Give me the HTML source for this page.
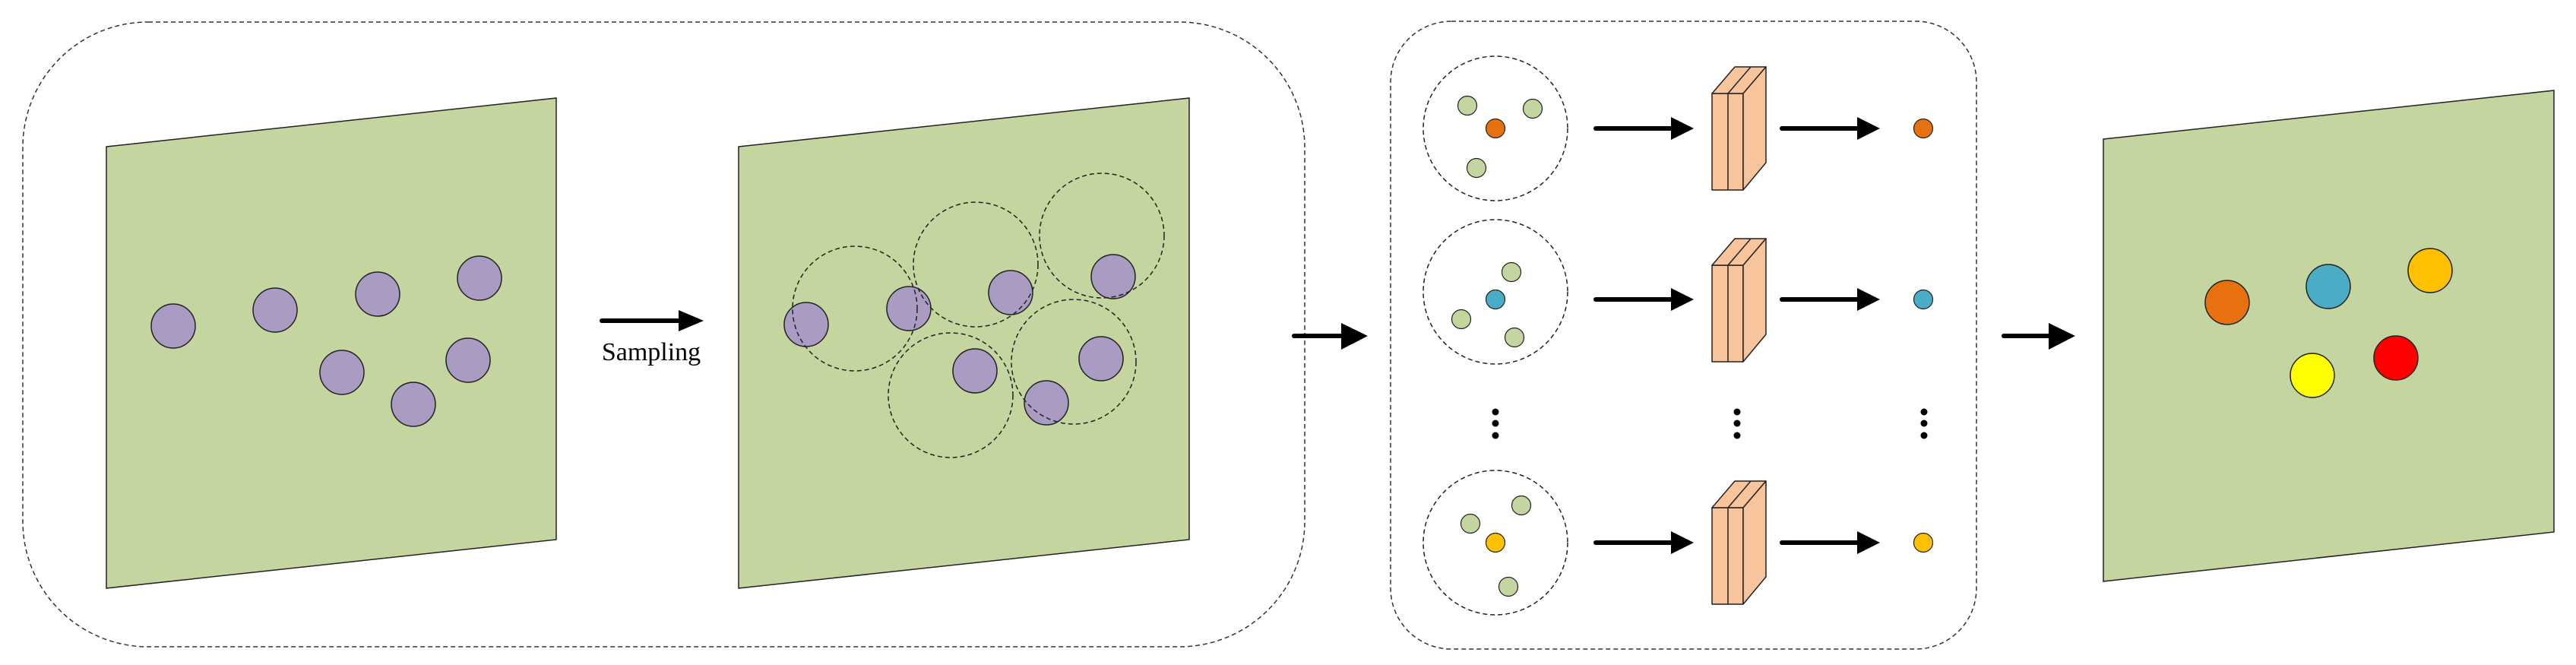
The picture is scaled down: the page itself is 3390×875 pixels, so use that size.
<!DOCTYPE html>
<html><head><style>html,body{margin:0;padding:0;background:#fff}svg{display:block}</style></head>
<body>
<svg width="3390" height="875" viewBox="0 0 3390 875" xmlns="http://www.w3.org/2000/svg">
<g fill="none" stroke="#333" stroke-width="1.5" stroke-dasharray="6,4">
<rect x="30" y="29" width="1687" height="822" rx="165" ry="165"/>
<rect x="1830" y="28" width="771" height="826" rx="80" ry="80"/>
</g>
<g fill="#c4d59f" stroke="#222" stroke-width="1.5">
<polygon points="140,193 732,129 732,710 140,774"/>
<polygon points="972,193 1565,129 1565,710 972,774"/>
<polygon points="2768,183 3361,119 3361,700 2768,765"/>
</g>
<g fill="#a99bc1" stroke="#222" stroke-width="1.5">
<circle cx="228" cy="429" r="29"/><circle cx="362" cy="408" r="29"/><circle cx="497" cy="387" r="29"/><circle cx="631" cy="366" r="29"/><circle cx="450" cy="490" r="29"/><circle cx="544" cy="532" r="29"/><circle cx="616" cy="474" r="29"/>
<circle cx="1061" cy="427" r="29"/><circle cx="1196" cy="406" r="29"/><circle cx="1330" cy="385" r="29"/><circle cx="1465" cy="364" r="29"/><circle cx="1283" cy="488" r="29"/><circle cx="1377" cy="530" r="29"/><circle cx="1449" cy="472" r="29"/>
</g>
<g fill="none" stroke="#222" stroke-width="1.5" stroke-dasharray="6,4">
<circle cx="1125" cy="406" r="82"/><circle cx="1284" cy="348" r="82"/><circle cx="1450" cy="310" r="82"/><circle cx="1251" cy="520" r="82"/><circle cx="1413" cy="476" r="82"/>
<circle cx="1968" cy="169" r="95"/><circle cx="1968" cy="384" r="95"/><circle cx="1968" cy="714" r="95"/>
</g>
<g stroke="#222" stroke-width="1.2">
<g fill="#c4d59f">
<circle cx="1931" cy="139" r="12.5"/><circle cx="2017" cy="143" r="12.5"/><circle cx="1943" cy="221" r="12.5"/>
<circle cx="1989" cy="358" r="12.5"/><circle cx="1923" cy="420" r="12.5"/><circle cx="1993" cy="444" r="12.5"/>
<circle cx="2002" cy="665" r="12.5"/><circle cx="1935" cy="689" r="12.5"/><circle cx="1985" cy="772" r="12.5"/>
</g>
<circle cx="1968" cy="169" r="12.5" fill="#e8710f"/>
<circle cx="1968" cy="394" r="12.5" fill="#4bacc6"/>
<circle cx="1968" cy="714" r="12.5" fill="#ffc000"/>
<circle cx="2531" cy="169" r="12.5" fill="#e8710f"/>
<circle cx="2531" cy="394" r="12.5" fill="#4bacc6"/>
<circle cx="2531" cy="714" r="12.5" fill="#ffc000"/>
<g stroke-width="1.5">
<circle cx="2931" cy="398" r="29" fill="#e8710f"/><circle cx="3064" cy="377" r="29" fill="#4bacc6"/><circle cx="3198" cy="356" r="29" fill="#ffc000"/><circle cx="3043" cy="494" r="29" fill="#ffff00"/><circle cx="3153" cy="471" r="29" fill="#ff0000"/>
</g>
</g>
<g fill="#f8c49c" stroke="#222" stroke-width="1.5" stroke-linejoin="round">
<g id="blk">
<rect x="2253" y="123" width="41" height="127"/>
<line x1="2274" y1="123" x2="2274" y2="250"/>
<polygon points="2253,123 2294,123 2324,88 2283,88"/>
<line x1="2274" y1="123" x2="2304" y2="88"/>
<polygon points="2294,123 2324,88 2324,214 2294,250"/>
</g>
<use href="#blk" transform="translate(0,226)"/>
<use href="#blk" transform="translate(0,545)"/>
</g>
<g stroke="#000" stroke-width="6" stroke-linecap="round">
<line x1="792" y1="422" x2="900" y2="422"/>
<line x1="1703" y1="442" x2="1770" y2="442"/>
<line x1="2637" y1="442" x2="2700" y2="442"/>
<line x1="2100" y1="169" x2="2205" y2="169"/><line x1="2345" y1="169" x2="2450" y2="169"/>
<line x1="2100" y1="394" x2="2205" y2="394"/><line x1="2345" y1="394" x2="2450" y2="394"/>
<line x1="2100" y1="714" x2="2205" y2="714"/><line x1="2345" y1="714" x2="2450" y2="714"/>
</g>
<g fill="#000">
<polygon points="893,408 926,422 893,436"/>
<polygon points="1765,425 1800,442 1765,460"/>
<polygon points="2696,425 2731,442 2696,460"/>
<polygon points="2199,154 2229,169 2199,184"/><polygon points="2444,154 2474,169 2444,184"/>
<polygon points="2199,379 2229,394 2199,409"/><polygon points="2444,379 2474,394 2444,409"/>
<polygon points="2199,699 2229,714 2199,729"/><polygon points="2444,699 2474,714 2444,729"/>
<circle cx="1968" cy="542" r="4.5"/><circle cx="1968" cy="557" r="4.5"/><circle cx="1968" cy="573" r="4.5"/>
<circle cx="2286" cy="542" r="4.5"/><circle cx="2286" cy="557" r="4.5"/><circle cx="2286" cy="573" r="4.5"/>
<circle cx="2532" cy="542" r="4.5"/><circle cx="2532" cy="557" r="4.5"/><circle cx="2532" cy="573" r="4.5"/>
</g>
<text x="857" y="474" text-anchor="middle" font-family="Liberation Serif, serif" font-size="34" fill="#000">Sampling</text>
</svg>
</body></html>
